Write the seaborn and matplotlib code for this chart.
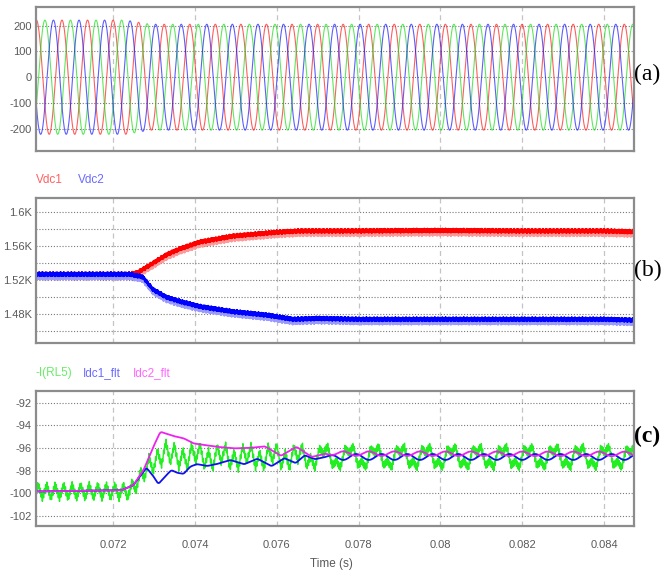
import numpy as np
import pandas as pd
import matplotlib
matplotlib.use("Agg")
import matplotlib.pyplot as plt
import seaborn as sns
from matplotlib import font_manager as fm

# ------------------------------------------------------------------
# Values
# ------------------------------------------------------------------
x_lim = (0.07011, 0.08474)
x_ticks = [0.072, 0.074, 0.076, 0.078, 0.080, 0.082, 0.084]
x_ticklabels = ["0.072", "0.074", "0.076", "0.078", "0.08", "0.082", "0.084"]
x_label = "Time (s)"

# fundamental period of all waveforms (read from peak spacing)
period = 0.000625

# (a) three-phase voltages
a_ylim = (-287, 273)
a_yticks = [-200, -100, 0, 100, 200]
a_peak_t = 0.07012                      # first red peak
a_env_t = [0.07011, 0.0723, 0.0729, 0.08474]
a_env_v = [222, 222, 206, 206]          # peak amplitude
a_phase = [0.0, 1 / 3, 2 / 3]           # lag in periods: red, green, blue

# (b) DC-link voltages
b_ylim = (1446, 1616)
b_yticks = [1480, 1520, 1560, 1600]
b_yticklabels = ["1.48K", "1.52K", "1.56K", "1.6K"]
b_grid = [1460, 1480, 1500, 1520, 1540, 1560, 1580, 1600]
vdc1_t = [0.07011, 0.0724, 0.0726, 0.0729, 0.0733, 0.07363, 0.07412, 0.07493,
          0.0760, 0.07657, 0.0775, 0.0800, 0.0820, 0.0840, 0.08474]
vdc1_v = [1525, 1525, 1527, 1536, 1548, 1555, 1563, 1570,
          1574.5, 1576, 1576, 1576.5, 1576, 1576, 1575]
vdc2_t = [0.07011, 0.0724, 0.07272, 0.07297, 0.0733, 0.07363, 0.07412, 0.07493,
          0.07575, 0.0764, 0.0770, 0.0780, 0.0800, 0.0840, 0.08474]
vdc2_v = [1525, 1525, 1522, 1507, 1498, 1493, 1487, 1481,
          1477, 1472, 1473, 1472, 1472, 1472, 1471]
b_band = 4.5                            # half-thickness of the switching band

# (c) DC currents
c_ylim = (-102.88, -90.94)
c_yticks = [-102, -100, -98, -96, -94, -92]
idc2_t = [0.07011, 0.0722, 0.07249, 0.07274, 0.07298, 0.07315, 0.07347, 0.07372,
          0.07396, 0.07453, 0.07495, 0.07534, 0.0757, 0.0761, 0.07648, 0.07685,
          0.0772, 0.08474]
idc2_v = [-99.85, -99.75, -99.3, -97.96, -95.9, -94.57, -94.95, -95.15,
          -95.6, -95.9, -96.04, -96.0, -95.85, -96.7, -95.9, -96.8,
          -96.5, -96.53]
idc1_t = [0.07011, 0.0722, 0.07249, 0.07281, 0.07298, 0.0731, 0.0733, 0.07342,
          0.07356, 0.07372, 0.07388, 0.07404, 0.07429, 0.07453, 0.07486, 0.0752,
          0.07552, 0.07587, 0.07618, 0.07646, 0.07668, 0.07693, 0.0772, 0.08474]
idc1_v = [-99.85, -99.75, -99.3, -97.75, -98.5, -99.2, -98.4, -97.96,
          -98.2, -98.3, -97.66, -97.43, -97.6, -97.43, -97.07, -97.45,
          -96.95, -97.62, -96.9, -97.35, -96.65, -97.0, -96.8, -96.8]
c_osc_peak = 0.07825                    # magenta peak / blue trough (steady state)
c_mag_amp = 0.2
c_blue_amp = 0.26
c_osc_env_t = [0.07011, 0.0771, 0.0775, 0.08474]
c_osc_env_v = [0.0, 0.0, 1.0, 1.0]
irl_t = [0.07011, 0.0724, 0.07255, 0.0728, 0.07305, 0.07323, 0.0734, 0.0738,
         0.0745, 0.0760, 0.08474]
irl_v = [-99.85, -99.85, -99.2, -98.0, -96.9, -96.3, -96.8, -96.7,
         -96.8, -96.8, -96.8]
irl_env_t = [0.07011, 0.0725, 0.0731, 0.0765, 0.0772, 0.08474]
irl_a3 = [0.6, 0.6, 0.9, 0.8, 0.45, 0.45]   # 3rd-harmonic ripple
irl_a1 = [0.0, 0.0, 0.3, 0.4, 0.75, 0.75]   # fundamental ripple
irl_hair = 0.3

# ------------------------------------------------------------------
sns.set_theme(style="white")
plt.rcParams["font.family"] = ["Liberation Sans", "DejaVu Sans"]

TICK_C = "#5a5a5a"
SPINE_C = "#8c8c8c"


def smooth(y, n):
    k = np.ones(n) / n
    yp = np.pad(y, (n // 2, n - 1 - n // 2), mode="edge")
    return np.convolve(yp, k, mode="valid")


N = 16000
t = np.linspace(x_lim[0], x_lim[1], N)
w = 2 * np.pi / period

fig = plt.figure(figsize=(6.63, 5.72), dpi=100)
fig.patch.set_facecolor("white")
L, W = 36 / 663, (634.3 - 36) / 663
ax_a = fig.add_axes([L, 1 - 151 / 572, W, 144 / 572])
ax_b = fig.add_axes([L, 1 - 342.7 / 572, W, 144.4 / 572])
ax_c = fig.add_axes([L, 1 - 525.7 / 572, W, 135 / 572])


def style(ax, ylim, yticks, ylabels, hgrid, show_x):
    ax.set_xlim(*x_lim)
    ax.set_ylim(*ylim)
    ax.set_facecolor("white")
    for g in x_ticks:
        ax.axvline(g, color="#c4c4c4", lw=0.9, ls=(0, (4, 3)), zorder=0)
    for g in hgrid:
        ax.axhline(g, color="#7a7a7a", lw=0.8, ls=(0, (1, 1.6)), zorder=0)
    ax.set_yticks(yticks)
    ax.set_yticklabels(ylabels)
    ax.set_xticks(x_ticks)
    if show_x:
        ax.set_xticklabels(x_ticklabels)
    else:
        ax.set_xticklabels([])
    ax.tick_params(axis="both", length=0, labelsize=8, colors=TICK_C)
    ax.tick_params(axis="y", pad=3)
    ax.tick_params(axis="x", pad=10)
    for s in ax.spines.values():
        s.set_visible(True)
        s.set_color(SPINE_C)
        s.set_linewidth(1.6)
    ax.grid(False)
    ax.set_xlabel("")
    ax.set_ylabel("")


# ---------------- (a) ----------------
env = np.interp(t, a_env_t, a_env_v)
cols_a = ["#ff1a1a", "#1adf1a", "#1a1aff"]
for ph, c in zip(a_phase, cols_a):
    y = env * np.cos(w * (t - a_peak_t) - 2 * np.pi * ph)
    sns.lineplot(x=t, y=y, ax=ax_a, color=c, lw=0.8, alpha=0.7,
                 estimator=None, sort=False, legend=False)
style(ax_a, a_ylim, a_yticks, [str(v) for v in a_yticks], a_yticks, False)

# ---------------- (b) ----------------
rip = (0.6 * np.sin(2 * np.pi * 41 / period * t)
       + 0.25 * np.sin(2 * np.pi * 113.3 / period * t)
       + 0.15 * np.sin(2 * np.pi * 7.1 / period * t))
win = max(3, int(0.00008 / (t[1] - t[0])))
for tt, vv, dark, light in [(vdc1_t, vdc1_v, "#ff0000", "#ff9a9a"),
                            (vdc2_t, vdc2_v, "#0000ff", "#9a9aff")]:
    m = smooth(np.interp(t, tt, vv), win)
    sns.lineplot(x=t, y=m - 1.5 + 0.85 * b_band * rip, ax=ax_b, color=light, lw=0.9,
                 estimator=None, sort=False, legend=False)
    sns.lineplot(x=t, y=m + 1.6 + 0.65 * b_band * rip, ax=ax_b, color=dark, lw=0.9,
                 estimator=None, sort=False, legend=False)
style(ax_b, b_ylim, b_yticks, b_yticklabels, b_grid, False)

# ---------------- (c) ----------------
osc_env = np.interp(t, c_osc_env_t, c_osc_env_v)
osc = np.cos(w * (t - c_osc_peak))
idc2 = smooth(np.interp(t, idc2_t, idc2_v), win) + osc_env * c_mag_amp * osc
idc1 = smooth(np.interp(t, idc1_t, idc1_v), win) - osc_env * c_blue_amp * osc
tri3 = 2 / np.pi * np.arcsin(np.sin(3 * w * (t - x_lim[0])))
irl = (np.interp(t, irl_t, irl_v)
       + np.interp(t, irl_env_t, irl_a3) * tri3
       + np.interp(t, irl_env_t, irl_a1) * np.sin(w * (t - c_osc_peak))
       + irl_hair * np.sin(19.3 * w * t))
sns.lineplot(x=t, y=irl, ax=ax_c, color="#22ee22", lw=1.0,
             estimator=None, sort=False, legend=False)
sns.lineplot(x=t, y=idc1, ax=ax_c, color="#1010ee", lw=1.3,
             estimator=None, sort=False, legend=False)
sns.lineplot(x=t, y=idc2, ax=ax_c, color="#ee22ee", lw=1.3,
             estimator=None, sort=False, legend=False)
style(ax_c, c_ylim, c_yticks, [str(v) for v in c_yticks], c_yticks, True)

# ---------------- texts ----------------
def ftext(x, y, s, **kw):
    fig.text(x / 663, 1 - y / 572, s, **kw)

ftext(36, 180, "Vdc1", color="#ff6060", fontsize=8.5, va="center", ha="left")
ftext(78, 180, "Vdc2", color="#6a6aff", fontsize=8.5, va="center", ha="left")
ftext(36, 373, "-I(RL5)", color="#66ee66", fontsize=8.5, va="center", ha="left")
ftext(83, 373, "Idc1_flt", color="#6a6aff", fontsize=8.5, va="center", ha="left")
ftext(133, 373, "Idc2_flt", color="#ff66ff", fontsize=8.5, va="center", ha="left")
ftext(331, 564, x_label, color=TICK_C, fontsize=8.5, va="center", ha="center")

serif = ["Liberation Serif", "DejaVu Serif"]
ftext(634, 74, "(a)", family=serif, fontsize=17, va="center", ha="left", color="black")
ftext(634, 270, "(b)", family=serif, fontsize=17, va="center", ha="left", color="black")
ftext(634, 436, "(c)", family=serif, fontsize=17, va="center", ha="left", color="black",
      fontweight="bold")

fig.savefig("out.png", dpi=100, facecolor="white")
